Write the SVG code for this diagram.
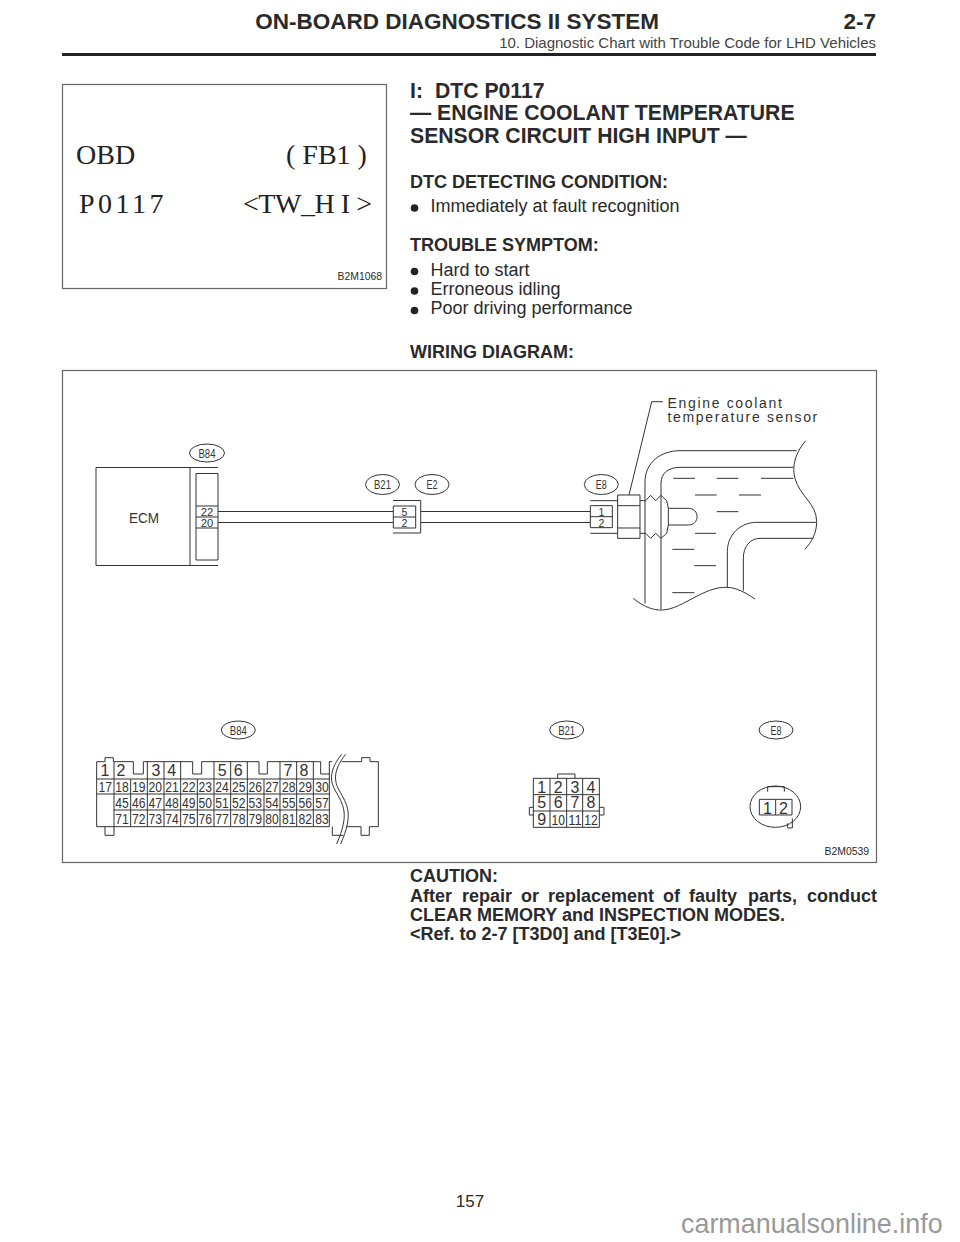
<svg xmlns="http://www.w3.org/2000/svg" width="960" height="1242" viewBox="0 0 960 1242">
<style>
text{font-family:"Liberation Sans",Arial,sans-serif;fill:#2a2a2a}
.top{font-weight:bold;font-size:22.5px;text-anchor:end}
.h{font-weight:bold;font-size:21.2px}
.b{font-weight:bold;font-size:18px}
.n{font-size:18px}
.s{font-size:10.4px;text-anchor:end}
.frame{fill:none;stroke:#666;stroke-width:1.2}
.l{fill:none;stroke:#333;stroke-width:1;vector-effect:non-scaling-stroke}
.o{fill:#fff;stroke:#333;stroke-width:1}
.dia{fill:#333;text-anchor:middle}
.tag{font-size:13px;fill:#333;text-anchor:middle}
.big{font-family:"Liberation Serif",serif;font-size:28px;fill:#222}
.c{font-size:15px;fill:#333;text-anchor:middle}
.p{font-size:16px;fill:#333;text-anchor:middle}
.pin{font-size:10.5px;fill:#333;text-anchor:middle}
.cap{font-size:14px;fill:#333;letter-spacing:1.67px}
</style>
<g id="header">
<text class="top" x="659" y="29">ON-BOARD DIAGNOSTICS II SYSTEM</text>
<text class="top" x="876" y="29">2-7</text>
<text x="876" y="48" style="font-size:15px;fill:#444" text-anchor="end">10. Diagnostic Chart with Trouble Code for LHD Vehicles</text>
<rect x="62" y="53" width="814" height="3" fill="#222"/>
</g>
<g id="scan-display">
<rect class="frame" x="62.500" y="84.500" width="324" height="204"/>
<text class="big" x="76" y="163.500">OBD</text>
<text class="big" x="286" y="163.500">( FB1 )</text>
<text class="big" x="79" y="212.500" style="letter-spacing:3.5px">P0117</text>
<text class="big" x="243" y="212.500" textLength="129">&lt;TW_H I &gt;</text>
<text class="s" x="382" y="280">B2M1068</text>
</g>
<g id="title">
<text class="h" x="410" y="97.500">I:<tspan x="435">DTC P0117</tspan></text>
<text class="h" x="410" y="120">— ENGINE COOLANT TEMPERATURE</text>
<text class="h" x="410" y="142.500">SENSOR CIRCUIT HIGH INPUT —</text>
</g>
<g id="body">
<text class="b" x="410" y="187.500">DTC DETECTING CONDITION:</text>
<circle cx="414.500" cy="208" r="3.800" fill="#222"/>
<text class="n" x="430.500" y="212">Immediately at fault recognition</text>
<text class="b" x="410" y="251">TROUBLE SYMPTOM:</text>
<circle cx="414.500" cy="271.500" r="3.800" fill="#222"/>
<text class="n" x="430.500" y="276">Hard to start</text>
<circle cx="414.500" cy="291" r="3.800" fill="#222"/>
<text class="n" x="430.500" y="295">Erroneous idling</text>
<circle cx="414.500" cy="310.500" r="3.800" fill="#222"/>
<text class="n" x="430.500" y="314">Poor driving performance</text>
<text class="b" x="410" y="358">WIRING DIAGRAM:</text>
<text class="b" x="410" y="882">CAUTION:</text>
<text class="b" x="410" y="902">After <tspan x="462">repair</tspan> <tspan x="521">or</tspan> <tspan x="548">replacement</tspan> <tspan x="663">of</tspan> <tspan x="689">faulty</tspan> <tspan x="748">parts,</tspan> <tspan x="807">conduct</tspan></text>
<text class="b" x="410" y="921">CLEAR MEMORY and INSPECTION MODES.</text>
<text class="b" x="410" y="940">&lt;Ref. to 2-7 [T3D0] and [T3E0].&gt;</text>
</g>
<rect class="frame" x="62.500" y="370.500" width="814" height="492"/>
<g id="connectors">
<path class="l" d="M218 511.500H393M218 522.500H393M421 511.500H590M421 522.500H590"/>
<path class="l" d="M662.700 401.700H651.700L629 495"/>
</g>
<g id="ecm">
<path class="l" d="M218 467.500H96V565.500H218M190 467.500V565.500"/>
<rect class="l" x="196" y="473.500" width="22" height="86.500"/>
<path class="l" d="M196 506H218M196 517H218M196 528H218"/>
<text class="dia" x="144" y="523" style="font-size:15px" textLength="30" lengthAdjust="spacingAndGlyphs">ECM</text>
<text class="pin" x="207" y="515.500" textLength="12.500" lengthAdjust="spacingAndGlyphs">22</text>
<text class="pin" x="207" y="526.500" textLength="12.500" lengthAdjust="spacingAndGlyphs">20</text>
<ellipse class="o" cx="207" cy="453" rx="17.500" ry="9"/>
<text class="tag" x="207" y="457.500" textLength="17" lengthAdjust="spacingAndGlyphs">B84</text>
</g>
<g id="b21-e2">
<path class="l" d="M393 500.500H420.700V533H393"/>
<rect class="l" x="393.300" y="506" width="22.400" height="22"/>
<path class="l" d="M393.300 517H415.700"/>
<text class="pin" x="404.500" y="515.500">5</text>
<text class="pin" x="404.500" y="526.500">2</text>
<ellipse class="o" cx="382.500" cy="484.500" rx="17" ry="10"/>
<text class="tag" x="382.500" y="489" textLength="17" lengthAdjust="spacingAndGlyphs">B21</text>
<ellipse class="o" cx="432" cy="484.500" rx="17" ry="10"/>
<text class="tag" x="432" y="489" textLength="11" lengthAdjust="spacingAndGlyphs">E2</text>
</g>
<g id="e8-sensor">
<g transform="translate(480 370) scale(.33333)">
<path class="l" d="M331 392H413M331 490H413"/>
<rect class="l" x="331" y="407" width="66" height="66"/>
<path class="l" d="M331 440H397"/>
<rect class="l" x="413" y="375" width="67" height="130"/>
<path class="l" d="M413 407H480M413 474H480"/>
<path class="l" d="M480 392H497L512 376L527 392L543 376L560 392L565 415V465L560 490L543 505L527 490L512 505L497 490H480"/>
<path class="l" d="M565 415H625C660 415 660 465 625 465H565"/>
<path class="l" d="M495 700V335C495 280 540 242 600 242H950M543 718V340C543 310 565 292 600 292H940"/>
<path class="l" d="M977 212C945 250 935 290 945 325C960 380 1010 400 1010 455C1010 490 995 515 975 538"/>
<path class="l" d="M1008 457H830C780 457 742 495 742 545V652M1000 505H840C810 505 790 530 790 565V662"/>
<path class="l" d="M460 685C490 710 520 722 550 720C610 715 670 650 740 652C770 652 800 670 825 687"/>
<path class="l" d="M580 325H645M710 325H775M843 325H940M645 375H710M777 375H843M710 425H775M645 490H708M577 538H643M643 587H708M577 668H643"/>
</g>
<ellipse class="o" cx="601.300" cy="484.500" rx="17" ry="10"/>
<text class="tag" x="601.300" y="489" textLength="11" lengthAdjust="spacingAndGlyphs">E8</text>
<text class="pin" x="601.300" y="515.500">1</text>
<text class="pin" x="601.300" y="526.500">2</text>
<text class="cap" x="667.500" y="408">Engine coolant</text>
<text class="cap" x="667.500" y="421.700">temperature sensor</text>
</g>
<g id="b84-pinout">
<ellipse class="o" cx="238.300" cy="730" rx="17" ry="9"/>
<text class="tag" x="238.300" y="734.500" textLength="17" lengthAdjust="spacingAndGlyphs">B84</text>
<g transform="translate(80 710) scale(.33333)">
<path class="l" d="M757 155H748V350H50V155H75V143H100V155H160V192H190V155H338V192H365V155H537V192H562V155H722V192H748"/>
<path class="l" d="M50 207H748M50 252H748M102 300H748M102 155V350"/>
<path class="l" d="M202 155V350M252 155V350M302 155V350M402 155V350M452 155V350M502 155V350M600 155V350M650 155V350M700 155V350M152 207V350M352 207V350M552 207V350"/>
<path class="l" d="M75 350V376H102V350"/>
<path class="l" d="M785 155H845V143H870V155H895V350H868V376H843V350H800M757 350V376H790"/>
<path class="l" d="M785 133C755 170 745 205 765 240C790 285 810 310 770 402M797 133C767 170 757 205 777 240C802 285 822 310 782 402"/>
</g>
<text class="p" x="105" y="776">1</text><text class="p" x="121" y="776">2</text><text class="p" x="156" y="776">3</text><text class="p" x="171.700" y="776">4</text><text class="p" x="222.300" y="776">5</text><text class="p" x="238.300" y="776">6</text><text class="p" x="288" y="776">7</text><text class="p" x="304" y="776">8</text>
<text class="c" x="105.300" y="792.300" textLength="13.500" lengthAdjust="spacingAndGlyphs">17</text><text class="c" x="122" y="792.300" textLength="13.500" lengthAdjust="spacingAndGlyphs">18</text><text class="c" x="138.700" y="792.300" textLength="13.500" lengthAdjust="spacingAndGlyphs">19</text><text class="c" x="155.300" y="792.300" textLength="13.500" lengthAdjust="spacingAndGlyphs">20</text><text class="c" x="172" y="792.300" textLength="13.500" lengthAdjust="spacingAndGlyphs">21</text><text class="c" x="188.700" y="792.300" textLength="13.500" lengthAdjust="spacingAndGlyphs">22</text><text class="c" x="205.300" y="792.300" textLength="13.500" lengthAdjust="spacingAndGlyphs">23</text><text class="c" x="222" y="792.300" textLength="13.500" lengthAdjust="spacingAndGlyphs">24</text><text class="c" x="238.700" y="792.300" textLength="13.500" lengthAdjust="spacingAndGlyphs">25</text><text class="c" x="255.300" y="792.300" textLength="13.500" lengthAdjust="spacingAndGlyphs">26</text><text class="c" x="272" y="792.300" textLength="13.500" lengthAdjust="spacingAndGlyphs">27</text><text class="c" x="288.700" y="792.300" textLength="13.500" lengthAdjust="spacingAndGlyphs">28</text><text class="c" x="305.300" y="792.300" textLength="13.500" lengthAdjust="spacingAndGlyphs">29</text><text class="c" x="322" y="792.300" textLength="13.500" lengthAdjust="spacingAndGlyphs">30</text>
<text class="c" x="122" y="807.800" textLength="13.500" lengthAdjust="spacingAndGlyphs">45</text><text class="c" x="138.700" y="807.800" textLength="13.500" lengthAdjust="spacingAndGlyphs">46</text><text class="c" x="155.300" y="807.800" textLength="13.500" lengthAdjust="spacingAndGlyphs">47</text><text class="c" x="172" y="807.800" textLength="13.500" lengthAdjust="spacingAndGlyphs">48</text><text class="c" x="188.700" y="807.800" textLength="13.500" lengthAdjust="spacingAndGlyphs">49</text><text class="c" x="205.300" y="807.800" textLength="13.500" lengthAdjust="spacingAndGlyphs">50</text><text class="c" x="222" y="807.800" textLength="13.500" lengthAdjust="spacingAndGlyphs">51</text><text class="c" x="238.700" y="807.800" textLength="13.500" lengthAdjust="spacingAndGlyphs">52</text><text class="c" x="255.300" y="807.800" textLength="13.500" lengthAdjust="spacingAndGlyphs">53</text><text class="c" x="272" y="807.800" textLength="13.500" lengthAdjust="spacingAndGlyphs">54</text><text class="c" x="288.700" y="807.800" textLength="13.500" lengthAdjust="spacingAndGlyphs">55</text><text class="c" x="305.300" y="807.800" textLength="13.500" lengthAdjust="spacingAndGlyphs">56</text><text class="c" x="322" y="807.800" textLength="13.500" lengthAdjust="spacingAndGlyphs">57</text>
<text class="c" x="122" y="824" textLength="13.500" lengthAdjust="spacingAndGlyphs">71</text><text class="c" x="138.700" y="824" textLength="13.500" lengthAdjust="spacingAndGlyphs">72</text><text class="c" x="155.300" y="824" textLength="13.500" lengthAdjust="spacingAndGlyphs">73</text><text class="c" x="172" y="824" textLength="13.500" lengthAdjust="spacingAndGlyphs">74</text><text class="c" x="188.700" y="824" textLength="13.500" lengthAdjust="spacingAndGlyphs">75</text><text class="c" x="205.300" y="824" textLength="13.500" lengthAdjust="spacingAndGlyphs">76</text><text class="c" x="222" y="824" textLength="13.500" lengthAdjust="spacingAndGlyphs">77</text><text class="c" x="238.700" y="824" textLength="13.500" lengthAdjust="spacingAndGlyphs">78</text><text class="c" x="255.300" y="824" textLength="13.500" lengthAdjust="spacingAndGlyphs">79</text><text class="c" x="272" y="824" textLength="13.500" lengthAdjust="spacingAndGlyphs">80</text><text class="c" x="288.700" y="824" textLength="13.500" lengthAdjust="spacingAndGlyphs">81</text><text class="c" x="305.300" y="824" textLength="13.500" lengthAdjust="spacingAndGlyphs">82</text><text class="c" x="322" y="824" textLength="13.500" lengthAdjust="spacingAndGlyphs">83</text>
</g>
<g id="b21-pinout">
<ellipse class="o" cx="566.700" cy="730" rx="17" ry="9"/>
<text class="tag" x="566.700" y="734.500" textLength="17" lengthAdjust="spacingAndGlyphs">B21</text>
<g transform="translate(500 710) scale(.33333)">
<rect class="l" x="100" y="205" width="198" height="147"/>
<path class="l" d="M100 254H298M100 303H298M150 205V352M200 205V352M248 205V352"/>
<path class="l" d="M173 205V192H225V205M100 292H88V315H100M298 292H312V315H298"/>
</g>
<text class="p" x="541.700" y="792.500">1</text><text class="p" x="558.300" y="792.500">2</text><text class="p" x="575" y="792.500">3</text><text class="p" x="591" y="792.500">4</text>
<text class="p" x="541.700" y="808">5</text><text class="p" x="558.300" y="808">6</text><text class="p" x="575" y="808">7</text><text class="p" x="591" y="808">8</text>
<text class="p" x="541.700" y="825">9</text><text class="c" x="558.300" y="825" textLength="13.500" lengthAdjust="spacingAndGlyphs">10</text><text class="c" x="575" y="825" textLength="13.500" lengthAdjust="spacingAndGlyphs">11</text><text class="c" x="591" y="825" textLength="13.500" lengthAdjust="spacingAndGlyphs">12</text>
</g>
<g id="e8-pinout">
<ellipse class="o" cx="776" cy="730" rx="17" ry="9"/>
<text class="tag" x="776" y="734.500" textLength="11" lengthAdjust="spacingAndGlyphs">E8</text>
<g transform="translate(500 710) scale(.33333)">
<path class="l" d="M803 245V230H853V245M863 340V354H877V325"/>
<ellipse class="l" cx="826" cy="290" rx="76" ry="62"/>
<rect class="l" x="778" y="268" width="98" height="47"/>
<path class="l" d="M827 268V315"/>
</g>
<text class="p" x="767.500" y="813.500">1</text>
<text class="p" x="783.500" y="813.500">2</text>
</g>
<text class="s" x="869" y="855">B2M0539</text>
<g id="footer">
<text x="470" y="1206.500" text-anchor="middle" style="font-size:17px">157</text>
<text x="681" y="1233" style="font-size:26.900px;fill:#999">carmanualsonline.info</text>
</g>
</svg>
